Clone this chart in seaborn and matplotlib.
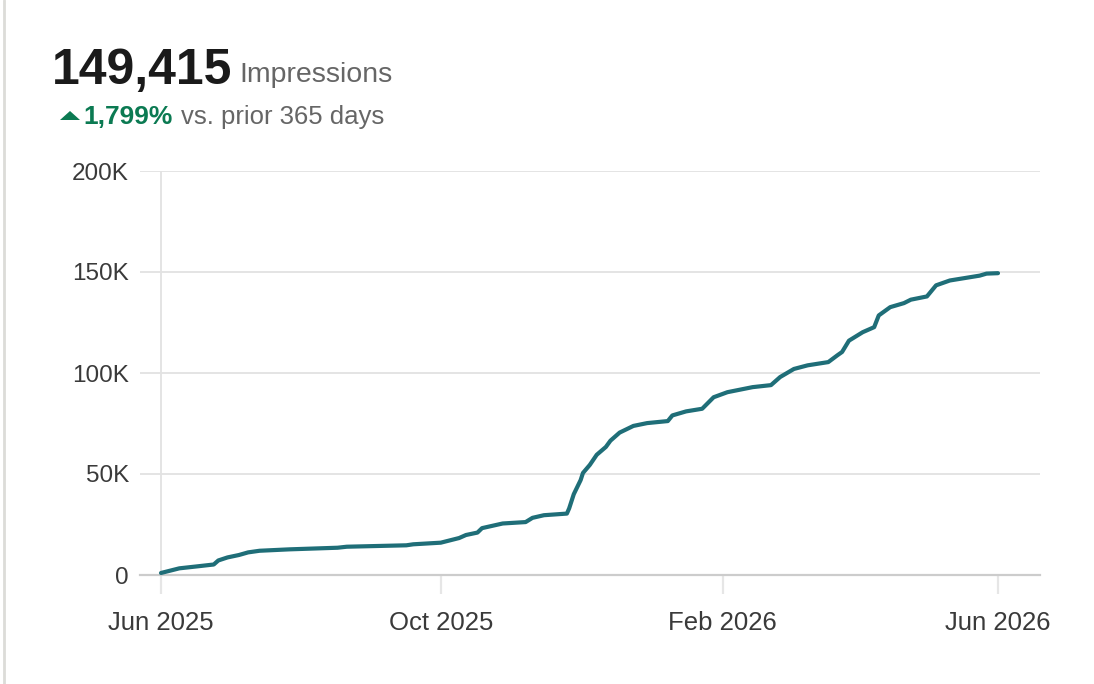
import matplotlib
matplotlib.use("Agg")
import matplotlib.pyplot as plt
from matplotlib.lines import Line2D
from matplotlib.patches import Polygon
import seaborn as sns
import pandas as pd

# ---- data ----
dates = [
    "2025-06-01", "2025-06-09", "2025-06-17", "2025-06-24", "2025-06-26", "2025-06-30",
    "2025-07-05", "2025-07-09", "2025-07-14", "2025-07-27", "2025-08-17", "2025-08-21",
    "2025-09-16", "2025-09-19", "2025-10-01", "2025-10-09", "2025-10-12", "2025-10-17",
    "2025-10-19", "2025-10-28", "2025-11-07", "2025-11-10", "2025-11-15", "2025-11-25",
    "2025-11-26", "2025-11-28", "2025-12-01", "2025-12-02", "2025-12-05", "2025-12-08",
    "2025-12-12", "2025-12-14", "2025-12-18", "2025-12-24", "2025-12-30", "2026-01-08",
    "2026-01-10", "2026-01-16", "2026-01-23", "2026-01-28", "2026-02-03", "2026-02-14",
    "2026-02-22", "2026-02-26", "2026-03-04", "2026-03-10", "2026-03-19", "2026-03-23",
    "2026-03-25", "2026-03-28", "2026-04-03", "2026-04-08", "2026-04-10", "2026-04-15",
    "2026-04-21", "2026-04-24", "2026-05-01", "2026-05-05", "2026-05-11", "2026-05-24",
    "2026-05-27", "2026-06-01",
]
impressions = [
    1000, 3300, 4300, 5200, 7200, 8700,
    9900, 11200, 12000, 12700, 13500, 14000,
    14700, 15200, 16000, 18300, 19800, 21000,
    23200, 25500, 26200, 28300, 29600, 30400,
    33000, 40000, 47000, 50500, 54500, 59500,
    63400, 66500, 70500, 73800, 75200, 76200,
    79000, 81000, 82300, 88000, 90500, 93000,
    94000, 98000, 102000, 103800, 105400, 108800,
    110400, 116000, 120200, 122700, 128500, 132600,
    134600, 136300, 137900, 143400, 145800, 148200,
    149200, 149415,
]
y_ticks = [0, 50000, 100000, 150000, 200000]
y_tick_labels = ["0", "50K", "100K", "150K", "200K"]
x_ticks = ["2025-06-01", "2025-10-01", "2026-02-01", "2026-06-01"]
x_tick_labels = ["Jun 2025", "Oct 2025", "Feb 2026", "Jun 2026"]
total_label = "149,415"
metric_label = "Impressions"
change_label = "1,799%"
compare_label = "vs. prior 365 days"

df = pd.DataFrame({"date": pd.to_datetime(dates), "impressions": impressions})

sns.set_theme(style="white")
FONT = ["Liberation Sans", "DejaVu Sans"]
plt.rcParams["font.family"] = FONT

W, H = 1094, 684
fig = plt.figure(figsize=(W / 100, H / 100), dpi=100)
fig.patch.set_facecolor("white")

ax = fig.add_axes([140 / W, 1 - 575 / H, (1040 - 140) / W, (575 - 171) / H])
ax.set_facecolor("white")

LINE = "#1f6e78"
sns.lineplot(data=df, x="date", y="impressions", ax=ax, color=LINE,
             linewidth=3.0, solid_capstyle="round", solid_joinstyle="round")

x0 = pd.Timestamp("2025-06-01")
x1 = pd.Timestamp("2026-06-01")
span = (x1 - x0).days
px_per_day = (998 - 161) / span
ax.set_xlim(x0 - pd.Timedelta(days=(161 - 140) / px_per_day),
            x1 + pd.Timedelta(days=(1040 - 998) / px_per_day))
ax.set_ylim(0, 200000)

ax.set_yticks(y_ticks)
ax.set_yticklabels(y_tick_labels)
ax.set_xticks(pd.to_datetime(x_ticks))
ax.set_xticklabels(x_tick_labels)

ax.grid(axis="y", color="#e2e2e2", linewidth=1.3)
ax.grid(axis="x", visible=False)
ax.axvline(x0, color="#e2e2e2", linewidth=1.3, zorder=0)
for s in ["top", "right", "left"]:
    ax.spines[s].set_visible(False)
ax.spines["bottom"].set_color("#cccccc")
ax.spines["bottom"].set_linewidth(1.6)
ax.spines["bottom"].set_zorder(1)

ax.tick_params(axis="x", which="major", bottom=True, length=14, width=1.6,
               color="#e6e6e6", pad=12, labelsize=18.5, labelcolor="#3a3a3a",
               direction="out")
ax.tick_params(axis="y", length=0, pad=8, labelsize=17.5, labelcolor="#3a3a3a")
ax.set_xlabel("")
ax.set_ylabel("")

# ---- header ----
fig.canvas.draw()
renderer = fig.canvas.get_renderer()

t1 = fig.text(52 / W, 1 - 84 / H, total_label, fontsize=36, fontweight="bold",
              color="#1a1a1a", va="baseline", ha="left", family=FONT)
bb = t1.get_window_extent(renderer)
fig.text((bb.x1 + 7) / W, 1 - 82 / H, metric_label, fontsize=20.5,
         color="#666666", va="baseline", ha="left", family=FONT)

GREEN = "#0b7a52"
tri = Polygon([[60 / W, 1 - 120 / H], [80 / W, 1 - 120 / H], [70 / W, 1 - 111 / H]],
              closed=True, facecolor=GREEN, edgecolor="none", transform=fig.transFigure)
fig.add_artist(tri)
t3 = fig.text(83 / W, 1 - 124 / H, change_label, fontsize=19, fontweight="bold",
              color=GREEN, va="baseline", ha="left", family=FONT)
bb3 = t3.get_window_extent(renderer)
fig.text((bb3.x1 + 9) / W, 1 - 124 / H, compare_label, fontsize=18.5,
         color="#666666", va="baseline", ha="left", family=FONT)

# left border of the card
fig.add_artist(Line2D([4 / W, 4 / W], [0, 1], color="#dcdcd8", linewidth=2.0,
                      transform=fig.transFigure))

fig.savefig("out.png", dpi=100, facecolor="white")
